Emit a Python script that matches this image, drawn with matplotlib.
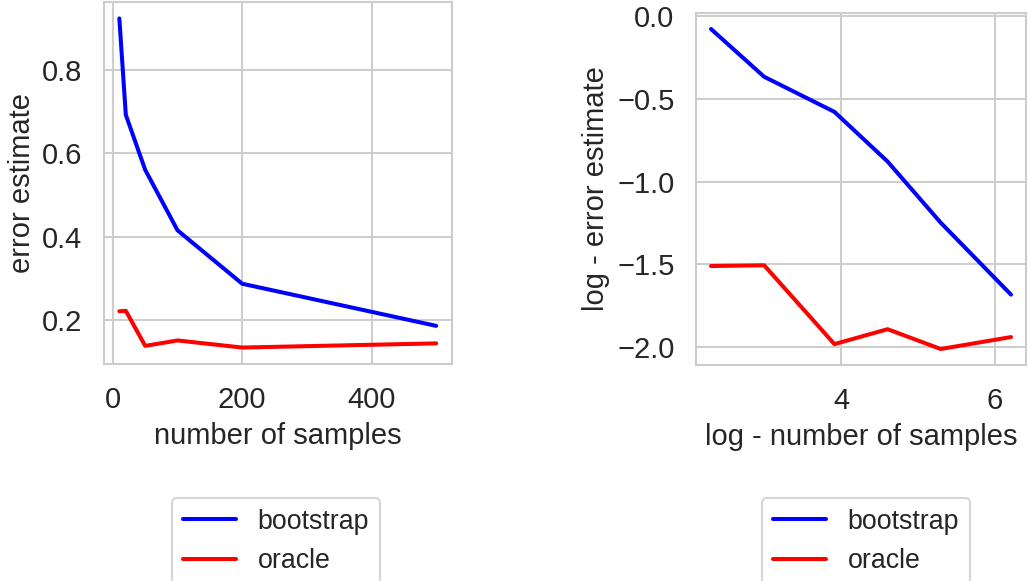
import numpy as np
import matplotlib
matplotlib.use("Agg")
import matplotlib.pyplot as plt
import seaborn as sns

sns.set_style("whitegrid")
plt.rcParams["font.family"] = ["Liberation Sans", "DejaVu Sans"]
plt.rcParams["axes.edgecolor"] = "#cccccc"
plt.rcParams["grid.color"] = "#cccccc"
plt.rcParams["axes.linewidth"] = 1.5
plt.rcParams["grid.linewidth"] = 1.4
plt.rcParams["text.color"] = "#262626"
plt.rcParams["axes.labelcolor"] = "#262626"
plt.rcParams["xtick.color"] = "#262626"
plt.rcParams["ytick.color"] = "#262626"

# sample sizes and the error estimates obtained at each size
n_samples = [10, 20, 50, 100, 200, 500]
bootstrap = [0.923, 0.692, 0.560, 0.415, 0.287, 0.186]
oracle = [0.221, 0.222, 0.138, 0.151, 0.134, 0.144]

tick_fs = 21
label_fs = 21
legend_fs = 19.3
lw = 2.9

fig = plt.figure(figsize=(10.28, 5.81), dpi=100)
ax1 = fig.add_axes([103.5 / 1028, 1 - 364 / 581, (452 - 103.5) / 1028, (364 - 2) / 581])
ax2 = fig.add_axes([696 / 1028, 1 - 365 / 581, (1026 - 696) / 1028, (365 - 13) / 581])

ax1.plot(n_samples, bootstrap, color="blue", lw=lw, label="bootstrap")
ax1.plot(n_samples, oracle, color="red", lw=lw, label="oracle")
ax1.set_xlabel("number of samples", fontsize=label_fs, labelpad=6)
ax1.set_ylabel("error estimate", fontsize=label_fs, labelpad=4)
ax1.set_yticks([0.2, 0.4, 0.6, 0.8])
ax1.set_xticks([0, 200, 400])

log_n = np.log(n_samples)
ax2.plot(log_n, np.log(bootstrap), color="blue", lw=lw, label="bootstrap")
ax2.plot(log_n, np.log(oracle), color="red", lw=lw, label="oracle")
ax2.set_xlabel("log - number of samples", fontsize=label_fs, labelpad=6)
ax2.set_ylabel("log - error estimate", fontsize=label_fs, labelpad=5)
ax2.set_xticks([4, 6])
ax2.set_yticks([0.0, -0.5, -1.0, -1.5, -2.0])

for ax in (ax1, ax2):
    ax.tick_params(labelsize=tick_fs, pad=12)

for ax, x0 in ((ax1, 172), (ax2, 762)):
    leg = ax.legend(loc="upper left", bbox_to_anchor=(x0 / 1028, 1 - 498 / 581),
                    bbox_transform=fig.transFigure, fontsize=legend_fs,
                    frameon=True, borderaxespad=0, handlelength=2.0)
    leg.get_frame().set_edgecolor("#cccccc")
    leg.get_frame().set_linewidth(1.5)

fig.savefig("out.png", dpi=100)
